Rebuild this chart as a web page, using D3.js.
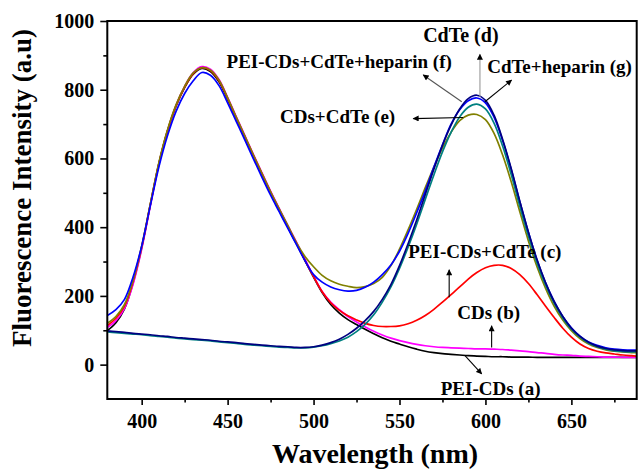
<!DOCTYPE html>
<html>
<head>
<meta charset="utf-8">
<script src="https://cdn.jsdelivr.net/npm/d3@7"></script>
<style>
  html, body { margin: 0; padding: 0; background: #fff; }
  svg { display: block; font-family: "Liberation Serif", "Times New Roman", serif; font-weight: bold; }
</style>
</head>
<body>
<svg id="chart"></svg>
<script>
var width = 639;
var height = 473;

// wavelength grid (nm)
var wavelength = [
  380,385,390,395,400,405,410,415,420,425,
  430,435,440,445,450,455,460,465,470,475,
  480,485,490,495,500,505,510,515,520,525,
  530,535,540,545,550,555,560,565,570,575,
  580,585,590,595,600,605,610,615,620,625,
  630,635,640,645,650,655,660,665,670,675,
  680,685,688
];

// (a) PEI-CDs
var peiCDs = [
  99,122,162,238,340,465,585,680,752,806,
  845,862,853,823,772,717,662,607,553,500,
  450,400,352,303,255,210,175,150,131,117,
  103,90,78,68,60,52,45,39,35,32,
  30,28,26,25,24,23,23,22,22,22,
  21,21,21,21,21,21,21,21,21,21,
  21,21,21
];
// (b) CDs
var cds = [
  108,128,164,234,336,461,582,680,755,810,
  850,867,860,830,778,722,667,612,558,505,
  455,405,357,307,258,213,182,160,140,124,
  110,97,86,77,70,64,59,55,52,50,
  49,48,47,46,46,45,44,42,40,38,
  35,33,30,28,27,25,24,23,22,22,
  21,21,21
];
// (c) PEI-CDs+CdTe
var peiCDsCdTe = [
  114,135,170,242,342,465,585,680,754,808,
  847,864,856,826,775,719,664,609,555,502,
  452,402,354,304,256,212,180,158,142,130,
  120,114,111,111,113,119,129,143,161,182,
  204,226,249,268,282,289,289,280,262,236,
  204,170,137,106,80,60,47,39,34,31,
  28,26,25
];
// (d) CdTe
var cdte = [
  98,96,94,91,89,87,84,82,79,77,
  75,73,71,68,66,64,61,59,57,55,
  53,52,50,50,52,57,64,74,88,106,
  128,155,190,233,288,352,421,495,569,638,
  697,744,774,784,769,726,655,570,475,385,
  305,238,183,140,106,82,65,54,47,43,
  41,40,40
];
// (e) CDs+CdTe
var cdsCdTe = [
  120,140,175,245,345,467,588,683,756,810,
  849,864,857,828,776,720,665,610,556,503,
  453,405,355,315,285,260,244,234,228,224,
  227,236,254,288,336,392,452,515,575,630,
  676,710,726,728,713,673,610,532,445,360,
  285,222,170,130,99,76,60,50,43,39,
  37,35,35
];
// (f) PEI-CDs+CdTe+heparin
var peiCDsCdTeHeparin = [
  143,160,190,255,345,462,575,666,737,789,
  826,850,842,812,762,708,654,599,545,493,
  445,397,350,303,262,240,226,218,214,216,
  225,240,262,290,330,382,442,505,575,640,
  700,742,768,776,762,720,652,568,474,385,
  305,238,184,140,107,83,66,56,49,45,
  43,42,42
];
// (g) CdTe+heparin
var cdteHeparin = [
  95,93,91,89,87,84,82,80,77,75,
  73,71,69,66,64,62,59,57,55,53,
  51,50,49,49,51,55,61,69,80,96,
  117,145,182,226,280,342,409,481,552,619,
  676,721,749,758,744,703,636,553,461,374,
  296,231,178,136,103,80,63,52,45,40,
  38,37,37
];

var seriesNames  = ["PEI-CDs (a)", "CDs (b)", "PEI-CDs+CdTe (c)", "CDs+CdTe (e)", "PEI-CDs+CdTe+heparin (f)", "CdTe+heparin (g)", "CdTe (d)"];
var seriesValues = [peiCDs, cds, peiCDsCdTe, cdsCdTe, peiCDsCdTeHeparin, cdteHeparin, cdte];
var seriesColors = ["#000000", "#ff00ff", "#ff0000", "#808000", "#0000ff", "#008080", "#000080"];

var xMajor = [400, 450, 500, 550, 600, 650];
var xMinor = [425, 475, 525, 575, 625, 675];
var yMajor = [0, 200, 400, 600, 800, 1000];
var yMinor = [100, 300, 500, 700, 900];

// annotations: label, label anchor [nm, value], arrow from [nm, value] to [nm, value], arrow colour
var annLabels = ["CdTe (d)", "PEI-CDs+CdTe+heparin (f)", "CdTe+heparin (g)", "CDs+CdTe (e)", "PEI-CDs+CdTe (c)", "CDs (b)", "PEI-CDs (a)"];
var annText   = [[585.7, 939, "middle", 20], [449.4, 862, "start", 19], [601.0, 849, "start", 19], [480.5, 702, "start", 19], [555.1, 310, "start", 19], [583.6, 133, "start", 19], [574.0, -89, "start", 19]];
var annFrom   = [[596.8, 779], [586.2, 765], [599.7, 765], [587.1, 719], [578.9, 196], [603.6, 50], [588.1, 26]];
var annTo     = [[596.8, 903], [563.8, 843], [615.2, 828], [558.0, 716], [578.9, 276], [603.6, 113], [597.8, -27]];
var annStroke = ["#999", "#555", "#000", "#000", "#000", "#000", "#000"];

var svg = d3.select("#chart")
    .attr("width", width)
    .attr("height", height);

svg.append("rect").attr("width", width).attr("height", height).attr("fill", "#fff");

var x = d3.scaleLinear().domain([380, 688]).range([107.3, 636.7]);
var y = d3.scaleLinear().domain([-100, 1000]).range([399, 21]);

// axes
var gx = svg.append("g").attr("transform", "translate(0," + y(-100) + ")");
gx.call(d3.axisBottom(x).tickValues(xMajor).tickSize(6).tickPadding(9).tickFormat(d3.format("d")));
gx.append("g").call(d3.axisBottom(x).tickValues(xMinor).tickSize(3.5).tickFormat(""));

var gy = svg.append("g").attr("transform", "translate(" + x(380) + ",0)");
gy.call(d3.axisLeft(y).tickValues(yMajor).tickSize(7).tickPadding(6).tickFormat(d3.format("d")));
gy.append("g").call(d3.axisLeft(y).tickValues(yMinor).tickSize(4).tickFormat(""));

svg.selectAll(".domain").remove();
svg.selectAll(".tick line").attr("stroke", "#000").attr("stroke-width", 1.6);
svg.selectAll(".tick text")
  .attr("fill", "#000")
  .style("font-family", "'Liberation Serif', 'Times New Roman', serif")
  .style("font-weight", "bold")
  .style("font-size", "20px");

// curves
var clip = svg.append("clipPath").attr("id", "plotclip")
  .append("rect")
  .attr("x", x(380)).attr("y", y(1000))
  .attr("width", x(688) - x(380)).attr("height", y(-100) - y(1000));

var line = d3.line()
  .x(function(d) { return x(d[0]); })
  .y(function(d) { return y(d[1]); })
  .curve(d3.curveCatmullRom.alpha(0.5));

var curves = svg.append("g").attr("clip-path", "url(#plotclip)");
seriesValues.forEach(function(vals, i) {
  var pts = wavelength.map(function(w, j) { return [w, vals[j]]; });
  curves.append("path")
    .datum(pts)
    .attr("fill", "none")
    .attr("stroke", seriesColors[i])
    .attr("stroke-width", 1.7)
    .attr("d", line);
});

// frame
svg.append("rect")
  .attr("x", x(380)).attr("y", y(1000))
  .attr("width", x(688) - x(380)).attr("height", y(-100) - y(1000))
  .attr("fill", "none")
  .attr("stroke", "#000")
  .attr("stroke-width", 2);

// arrows
var defs = svg.append("defs");
defs.append("marker")
  .attr("id", "arrow")
  .attr("viewBox", "0 0 10 10")
  .attr("refX", 9).attr("refY", 5)
  .attr("markerWidth", 7).attr("markerHeight", 6)
  .attr("markerUnits", "userSpaceOnUse")
  .attr("orient", "auto")
  .append("path")
  .attr("d", "M0,0 L10,5 L0,10 Z")
  .attr("fill", "#000");

var ann = svg.append("g");
annLabels.forEach(function(lbl, i) {
  ann.append("line")
    .attr("x1", x(annFrom[i][0])).attr("y1", y(annFrom[i][1]))
    .attr("x2", x(annTo[i][0])).attr("y2", y(annTo[i][1]))
    .attr("stroke", annStroke[i])
    .attr("stroke-width", 1.1)
    .attr("marker-end", "url(#arrow)");
  ann.append("text")
    .attr("x", x(annText[i][0]))
    .attr("y", y(annText[i][1]))
    .attr("text-anchor", annText[i][2])
    .style("font-size", annText[i][3] + "px")
    .attr("fill", "#000")
    .text(lbl);
});

// axis titles
svg.append("text")
  .attr("x", 375)
  .attr("y", 463)
  .attr("text-anchor", "middle")
  .style("font-size", "28px")
  .text("Wavelength (nm)");

svg.append("text")
  .attr("transform", "translate(31,188) rotate(-90)")
  .attr("text-anchor", "middle")
  .style("font-size", "27px")
  .text("Fluorescence Intensity (a.u)");
</script>
</body>
</html>
